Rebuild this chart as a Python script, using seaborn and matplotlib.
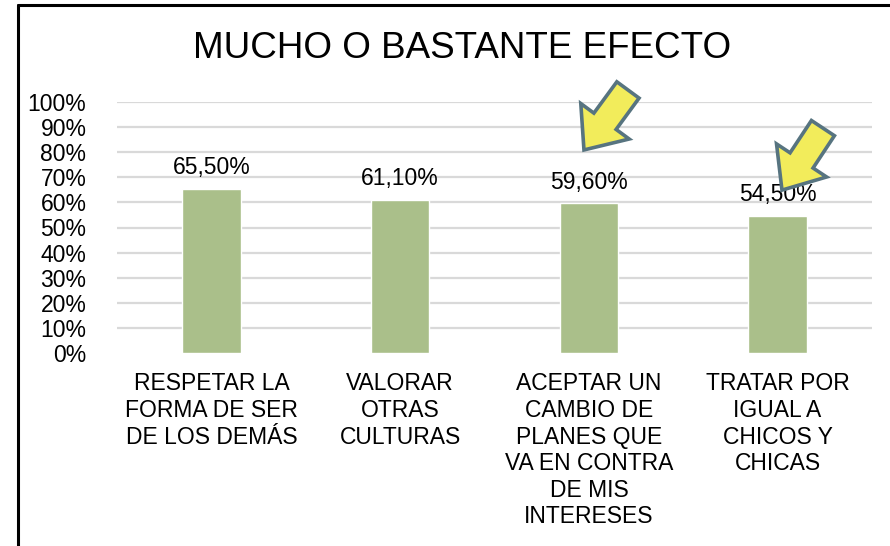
import matplotlib
matplotlib.use("Agg")
import matplotlib.pyplot as plt
from matplotlib.lines import Line2D
import seaborn as sns
import pandas as pd

title = "MUCHO O BASTANTE EFECTO"
categories = [
    "RESPETAR LA\nFORMA DE SER\nDE LOS DEMÁS",
    "VALORAR\nOTRAS\nCULTURAS",
    "ACEPTAR UN\nCAMBIO DE\nPLANES QUE\nVA EN CONTRA\nDE MIS\nINTERESES",
    "TRATAR POR\nIGUAL A\nCHICOS Y\nCHICAS",
]
values = [65.5, 61.1, 59.6, 54.5]
y_ticks = [0, 10, 20, 30, 40, 50, 60, 70, 80, 90, 100]
y_tick_labels = [f"{t}%" for t in y_ticks]
# highlight arrows: (category index, tip x offset, tip y, tail x offset, tail y)
arrow_cat = [2, 3]
arrow_tip = [(-0.026, 80.9), (0.023, 64.9)]
arrow_tail = [(0.207, 104.8), (0.24, 89.6)]

sns.set_theme(style="white")
plt.rcParams["font.family"] = ["Liberation Sans", "DejaVu Sans"]

df = pd.DataFrame({"cat": categories, "val": values})

fig = plt.figure(figsize=(8.9, 5.46), dpi=100)
ax = fig.add_axes([117/890, 1 - 353/546, (872 - 117)/890, (353 - 102)/546])

sns.barplot(data=df, x="cat", y="val", color="#AABF8A", saturation=1,
            width=0.31, ax=ax)

ax.set_ylim(0, 100)
ax.set_yticks(y_ticks)
ax.set_yticklabels(y_tick_labels, fontsize=16.5, color="black")
ax.set_xlim(-0.5, len(categories) - 0.5)
ax.tick_params(axis="x", labelsize=16.5, pad=14, length=0, labelcolor="black")
ax.tick_params(axis="y", pad=22, length=0)
for lbl in ax.get_xticklabels():
    lbl.set_linespacing(1.2)
ax.set_xlabel("")
ax.set_ylabel("")
for s in ax.spines.values():
    s.set_visible(False)
ax.set_axisbelow(True)
for t in y_ticks[1:]:
    ax.axhline(t, color="#D9D9D9", lw=1.6, zorder=0)

for i, v in enumerate(values):
    ax.annotate(f"{v:.2f}".replace(".", ",") + "%", (i, v),
                xytext=(0, 7), textcoords="offset points",
                ha="center", va="bottom", fontsize=16.5, color="black")

for c, (tx, ty), (sx, sy) in zip(arrow_cat, arrow_tip, arrow_tail):
    ax.annotate("", xy=(c + tx, ty), xytext=(c + sx, sy),
                arrowprops=dict(arrowstyle="simple,head_length=0.8,head_width=1.35,tail_width=0.62",
                                mutation_scale=32, fc="#F2EC5B", ec="#577480", lw=2.6,
                                shrinkA=0, shrinkB=0, joinstyle="miter"),
                annotation_clip=False, zorder=5)

fig.text(462/890, 1 - 58/546, title, ha="center", va="baseline", fontsize=26.5, color="black")

# chart border
fig.add_artist(Line2D([18/890, 18/890], [0, 1 - 5/546], color="black", lw=2.2,
                      transform=fig.transFigure))
fig.add_artist(Line2D([18/890, 1], [1 - 5/546, 1 - 5/546], color="black", lw=2.2,
                      transform=fig.transFigure))

fig.savefig("out.png", dpi=100, facecolor="white")
